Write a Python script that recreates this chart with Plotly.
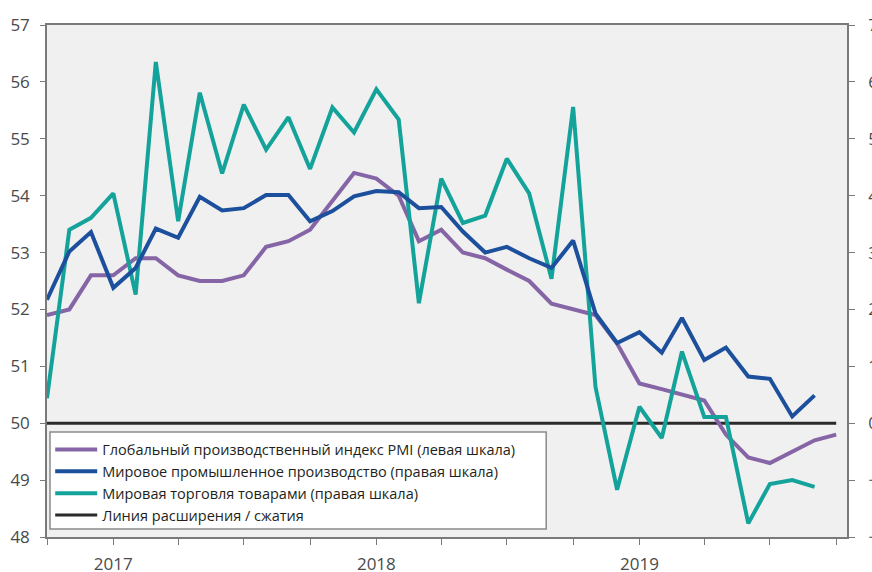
import plotly.graph_objects as go

months = ["2016-10-01", "2016-11-01", "2016-12-01",
          "2017-01-01", "2017-02-01", "2017-03-01", "2017-04-01", "2017-05-01", "2017-06-01",
          "2017-07-01", "2017-08-01", "2017-09-01", "2017-10-01", "2017-11-01", "2017-12-01",
          "2018-01-01", "2018-02-01", "2018-03-01", "2018-04-01", "2018-05-01", "2018-06-01",
          "2018-07-01", "2018-08-01", "2018-09-01", "2018-10-01", "2018-11-01", "2018-12-01",
          "2019-01-01", "2019-02-01", "2019-03-01", "2019-04-01", "2019-05-01", "2019-06-01",
          "2019-07-01", "2019-08-01", "2019-09-01", "2019-10-01"]

# Global manufacturing PMI (left scale), Oct 2016 - Oct 2019
pmi = [51.9, 52.0, 52.6, 52.6, 52.9, 52.9, 52.6, 52.5, 52.5, 52.6, 53.1, 53.2,
       53.4, 53.9, 54.4, 54.3, 54.0, 53.2, 53.4, 53.0, 52.9, 52.7, 52.5, 52.1,
       52.0, 51.9, 51.4, 50.7, 50.6, 50.5, 50.4, 49.8, 49.4, 49.3, 49.5, 49.7, 49.8]

# World industrial production (right scale), Oct 2016 - Sep 2019
ind_prod = [2.17, 3.02, 3.36, 2.38, 2.73, 3.42, 3.26, 3.98, 3.74, 3.78, 4.01, 4.01,
            3.55, 3.73, 3.99, 4.08, 4.06, 3.78, 3.80, 3.37, 3.00, 3.10, 2.90, 2.73,
            3.21, 1.93, 1.41, 1.60, 1.24, 1.85, 1.11, 1.33, 0.82, 0.78, 0.12, 0.49]

# World merchandise trade (right scale), Oct 2016 - Sep 2019
trade = [0.44, 3.40, 3.61, 4.04, 2.26, 6.35, 3.55, 5.81, 4.39, 5.60, 4.81, 5.38,
         4.47, 5.55, 5.11, 5.87, 5.34, 2.11, 4.30, 3.52, 3.65, 4.65, 4.04, 2.54,
         5.56, 0.64, -1.17, 0.29, -0.26, 1.26, 0.11, 0.11, -1.76, -1.07, -1.00, -1.12]

# Expansion / contraction line (left scale)
line_x = [months[0], months[-1]]
line_y = [50, 50]

tick_vals = ["2016-10-01", "2017-01-01", "2017-04-01", "2017-07-01", "2017-10-01",
             "2018-01-01", "2018-04-01", "2018-07-01", "2018-10-01",
             "2019-01-01", "2019-04-01", "2019-07-01", "2019-10-01"]
tick_text = ["", "2017", "", "", "", "2018", "", "", "", "2019", "", "", ""]

names = ["Глобальный производственный индекс PMI (левая шкала)",
         "Мировое промышленное производство (правая шкала)",
         "Мировая торговля товарами (правая шкала)",
         "Линия расширения / сжатия"]

PURPLE = "#8565a5"
BLUE = "#1c4f9c"
TEAL = "#13a39a"
BLACK = "#2b2b2b"

fig = go.Figure()
fig.add_trace(go.Scatter(x=line_x, y=line_y, mode="lines", name=names[3],
                         line=dict(color=BLACK, width=3), yaxis="y", legendrank=4))
fig.add_trace(go.Scatter(x=months[:len(trade)], y=trade, mode="lines", name=names[2],
                         line=dict(color=TEAL, width=4), yaxis="y2", legendrank=3))
fig.add_trace(go.Scatter(x=months[:len(ind_prod)], y=ind_prod, mode="lines", name=names[1],
                         line=dict(color=BLUE, width=4), yaxis="y2", legendrank=2))
fig.add_trace(go.Scatter(x=months, y=pmi, mode="lines", name=names[0],
                         line=dict(color=PURPLE, width=4), yaxis="y", legendrank=1))

axis_col = "#7a7a7a"
tick_font = dict(family="Open Sans, Noto Sans, sans-serif", size=17, color="#4a4a4a")

# legend frame (white box with grey border)
fig.add_shape(type="rect", xref="paper", yref="paper",
              x0=0.00375, x1=0.624, y0=0.0156, y1=0.205,
              fillcolor="white", line=dict(color="#8a8a8a", width=1.5), layer="below")

fig.update_layout(
    width=872, height=572,
    margin=dict(l=47, r=25, t=25, b=35),
    paper_bgcolor="white",
    plot_bgcolor="#f0f0f0",
    showlegend=True,
    legend=dict(x=0.004, y=0.202, xanchor="left", yanchor="top",
                bgcolor="rgba(0,0,0,0)", borderwidth=0,
                font=dict(family="Open Sans, Noto Sans, sans-serif", size=14.5, color="#231f20"),
                tracegroupgap=0, itemwidth=42),
    xaxis=dict(type="date", range=["2016-10-01", "2019-10-16"],
               tickmode="array", tickvals=tick_vals, ticktext=tick_text,
               ticks="outside", ticklen=6, tickcolor=axis_col, tickwidth=1.2,
               showline=True, linecolor=axis_col, linewidth=1.5, mirror=True,
               showgrid=False, zeroline=False, tickfont=tick_font,
               ticklabelstandoff=5, automargin=False),
    yaxis=dict(range=[48, 57], dtick=1, tick0=48,
               ticks="outside", ticklen=5, tickcolor=axis_col, tickwidth=1.2,
               showline=True, linecolor=axis_col, linewidth=1.5,
               showgrid=False, zeroline=False, tickfont=tick_font,
               ticklabelstandoff=7, automargin=False),
    yaxis2=dict(range=[-2, 7], dtick=1, tick0=-2, overlaying="y", side="right",
                ticks="outside", ticklen=6, tickcolor=axis_col, tickwidth=1.2,
                showline=True, linecolor=axis_col, linewidth=1.5,
                showgrid=False, zeroline=False, tickfont=tick_font,
                ticklabelstandoff=10, automargin=False),
)

fig.write_html("out.html", config={"displayModeBar": False},
               post_script="document.body.style.margin='0';document.body.style.overflow='hidden';")
